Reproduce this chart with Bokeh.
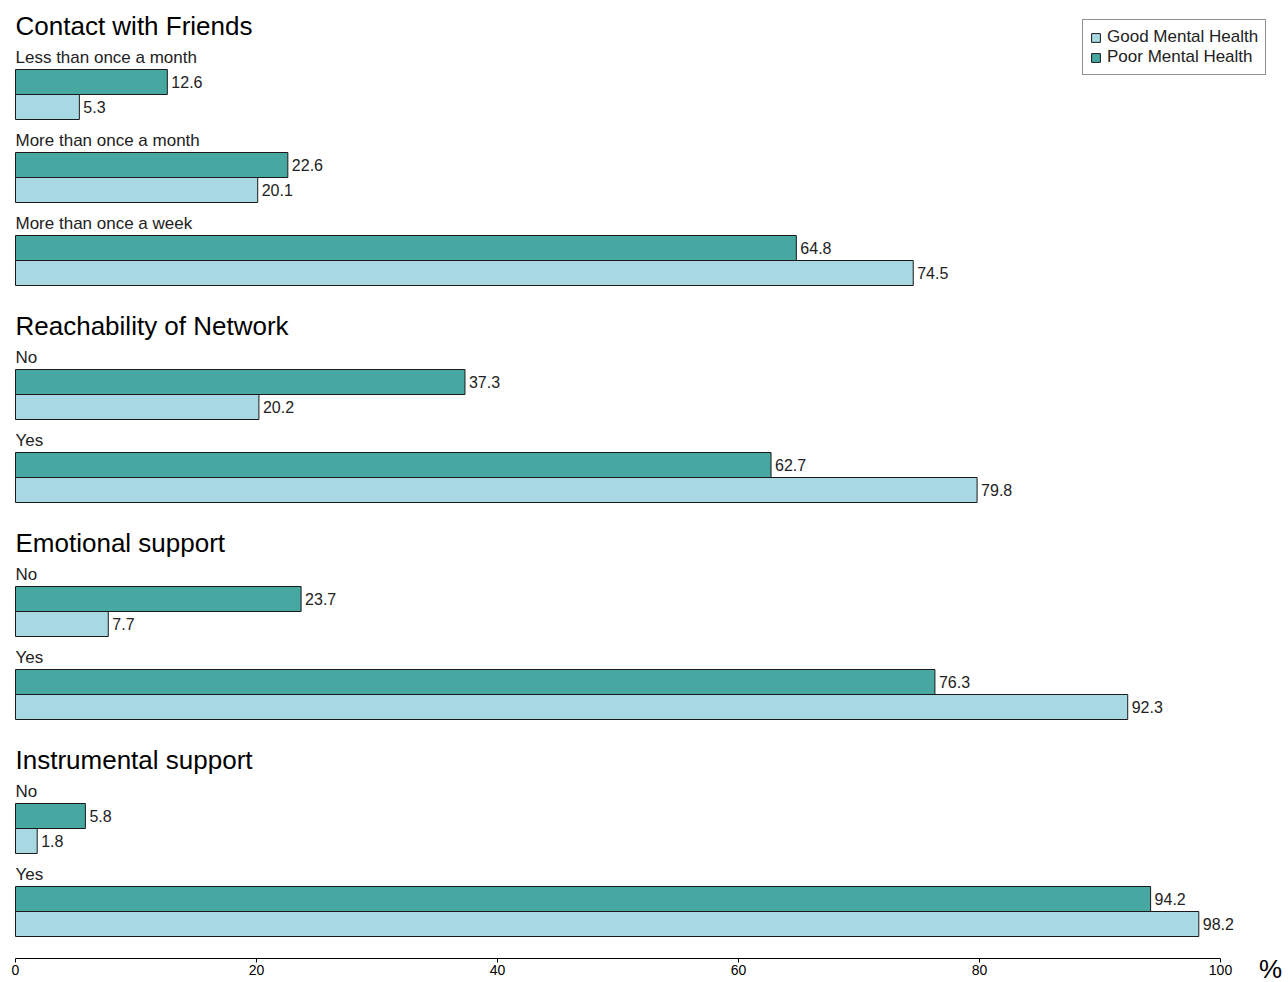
from bokeh.plotting import figure
from bokeh.models import Range1d, ColumnDataSource, Legend, LegendItem, FixedTicker
from bokeh.core.properties import value
from bokeh.embed import file_html
from bokeh.resources import INLINE

groups = ["Contact with Friends", "Reachability of Network", "Emotional support", "Instrumental support"]
categories = [
    ["Less than once a month", "More than once a month", "More than once a week"],
    ["No", "Yes"],
    ["No", "Yes"],
    ["No", "Yes"],
]
poor = [12.6, 22.6, 64.8, 37.3, 62.7, 23.7, 76.3, 5.8, 94.2]
good = [5.3, 20.1, 74.5, 20.2, 79.8, 7.7, 92.3, 1.8, 98.2]
x_ticks = [0, 20, 40, 60, 80, 100]

POOR_C = "#47A8A1"
GOOD_C = "#A8D9E3"
FONT = "Liberation Sans"

FRAME_W, FRAME_H = 1270, 958
RIGHT = 18
PX_PER = 12.05
X0 = 15

# layout (vertical positions in pixels from top)
title_y, title_t = [], []
cat_y, cat_t = [], []
poor_y, good_y = [], []
top = 69
for gi, g in enumerate(groups):
    title_y.append(top - 44)
    title_t.append(g)
    for ci, c in enumerate(categories[gi]):
        cat_y.append(top - 12)
        cat_t.append(c)
        poor_y.append(top + 12.5)
        good_y.append(top + 37.5)
        if ci < len(categories[gi]) - 1:
            top += 83
    top += 134

p = figure(frame_width=FRAME_W, frame_height=FRAME_H, output_backend="svg", toolbar_location=None,
           x_range=Range1d(-X0 / PX_PER, (FRAME_W - X0) / PX_PER),
           y_range=Range1d(FRAME_H, 0),
           min_border_left=0, min_border_right=RIGHT, min_border_top=0,
           min_border_bottom=0, y_axis_location=None)
p.outline_line_color = None
p.grid.visible = False
p.background_fill_color = "white"
p.border_fill_color = "white"

src_p = ColumnDataSource(dict(y=poor_y, v=poor, t=[f"{v:.1f}" for v in poor]))
src_g = ColumnDataSource(dict(y=good_y, v=good, t=[f"{v:.1f}" for v in good]))

rp = p.hbar(y="y", left=0, right="v", height=25, source=src_p,
            fill_color=POOR_C, line_color="#1a1a1a", line_width=1)
rg = p.hbar(y="y", left=0, right="v", height=25, source=src_g,
            fill_color=GOOD_C, line_color="#1a1a1a", line_width=1)

for s in (src_p, src_g):
    p.text(x="v", y="y", text="t", source=s, x_offset=4, text_baseline="middle",
           text_font=value(FONT), text_font_size="16px", text_color="#222222")

p.text(x=0, y=cat_y, text=cat_t, text_baseline="middle", text_font=value(FONT),
       text_font_size="17px", text_color="#222222")
p.text(x=0, y=title_y, text=title_t, text_baseline="middle", text_font=value(FONT),
       text_font_size="26px", text_color="#000000")

ax = p.xaxis[0]
ax.ticker = FixedTicker(ticks=x_ticks)
ax.bounds = (0, 100)
ax.major_tick_in = 0
ax.major_tick_out = 4
ax.minor_tick_out = 0
ax.minor_tick_in = 0
ax.axis_line_color = "#000000"
ax.major_tick_line_color = "#000000"
ax.major_label_text_font = FONT
ax.major_label_text_font_size = "14px"
ax.major_label_text_color = "#000000"
ax.major_label_standoff = 2
ax.axis_label = "%"
ax.axis_label_align = "end"
ax.axis_label_standoff = -24
ax.axis_label_text_font = FONT
ax.axis_label_text_font_size = "26px"
ax.axis_label_text_font_style = "normal"
ax.axis_label_text_color = "#000000"

legend = Legend(items=[LegendItem(label="Good Mental Health", renderers=[rg]),
                       LegendItem(label="Poor Mental Health", renderers=[rp])],
                location=(1082, FRAME_H - 75), margin=0, padding=7, spacing=0,
                glyph_width=11, glyph_height=11, label_height=20, label_standoff=6,
                label_text_font=FONT, label_text_font_size="17px", label_text_color="#222222",
                border_line_color="#222222", border_line_width=1,
                background_fill_color="white", background_fill_alpha=1)
p.add_layout(legend)

open("out.html", "w").write(file_html(p, INLINE))
